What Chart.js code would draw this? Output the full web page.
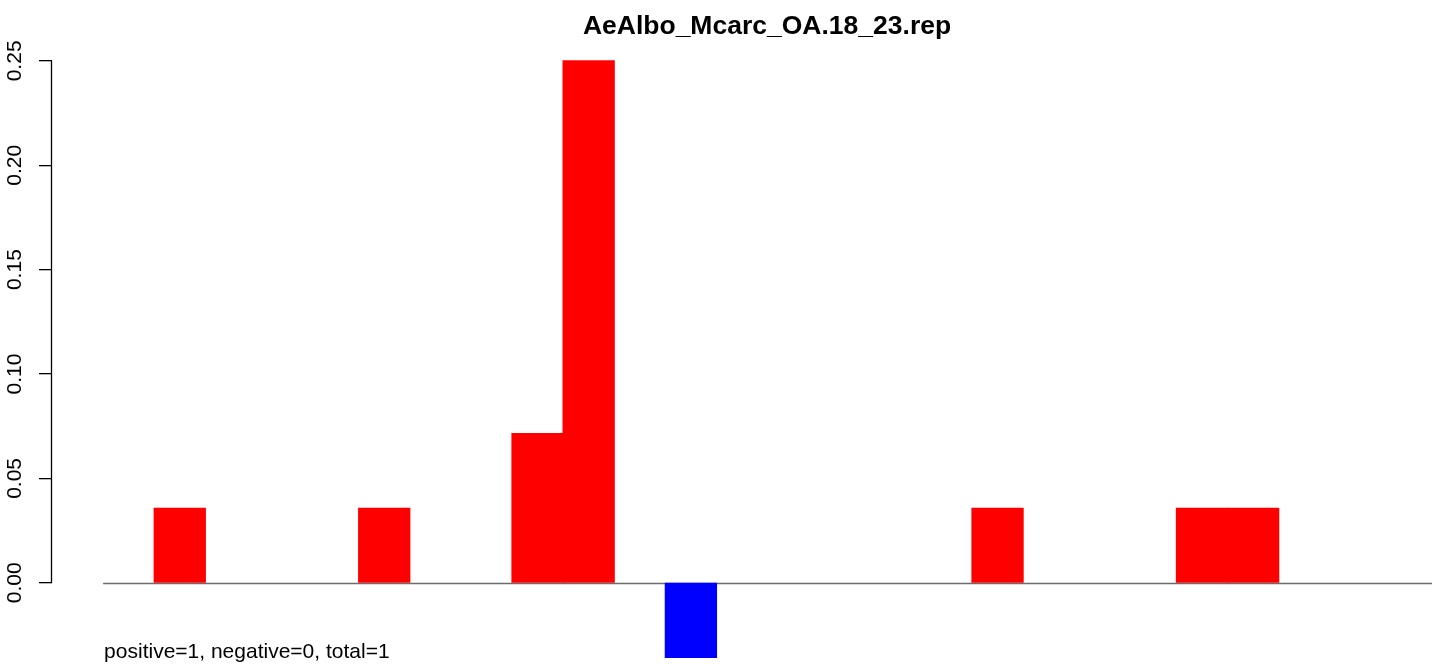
<!DOCTYPE html>
<html lang="en">
  <head>
    <meta charset="utf-8">
    <title>AeAlbo_Mcarc_OA.18_23.rep</title>
    <style> body {padding: 0; margin: 0; background: #fff;} </style>
    <script src="https://cdn.jsdelivr.net/npm/chart.js@4.4.1/dist/chart.umd.min.js"></script>
  </head>
  <body>
    <div style="position: relative; width:1439px; height:664px">
      <canvas id="repChart"></canvas>
    </div>
    <script>

      // bins along the x axis, one bar per bin
      var bins = [0, 1, 2, 3, 4, 5, 6, 7, 8, 9, 10, 11, 12, 13, 14, 15, 16, 17, 18, 19, 20, 21, 22, 23, 24, 25];
      var values = [0, 0.0357, 0, 0, 0, 0.0357, 0, 0, 0.0714, 0.25, 0, -0.0357, 0, 0, 0, 0, 0, 0.0357, 0, 0, 0, 0.0357, 0.0357, 0, 0, 0];
      var yTicks = [0, 0.05, 0.10, 0.15, 0.20, 0.25];
      var chartTitle = 'AeAlbo_Mcarc_OA.18_23.rep';
      var footNote = 'positive=1, negative=0, total=1';

      var FONT = 'Liberation Sans, Arial, Helvetica, sans-serif';

      // baseline under the bars, axis line, title and the note at the bottom
      var rPlot = {
        id: 'rPlot',
        beforeDatasetsDraw: function(chart) {
          var ctx = chart.ctx, x = chart.scales.x, y = chart.scales.y;
          var y0 = Math.round(y.getPixelForValue(0)) + 0.5;
          ctx.save();
          ctx.strokeStyle = '#6b6b6b';
          ctx.lineWidth = 1.3;
          ctx.beginPath();
          ctx.moveTo(x.getPixelForValue(bins[0] - 0.5), y0);
          ctx.lineTo(x.getPixelForValue(bins[bins.length - 1] + 0.5), y0);
          ctx.stroke();
          ctx.restore();
        },
        afterDraw: function(chart) {
          var ctx = chart.ctx, x = chart.scales.x, y = chart.scales.y;
          ctx.save();
          // y axis line, only over the tick range
          var ax = Math.round(chart.chartArea.left) - 0.5;
          ctx.strokeStyle = '#000';
          ctx.lineWidth = 1.3;
          ctx.beginPath();
          ctx.moveTo(ax, y.getPixelForValue(yTicks[0]));
          ctx.lineTo(ax, y.getPixelForValue(yTicks[yTicks.length - 1]));
          ctx.stroke();

          ctx.fillStyle = '#000';
          ctx.textBaseline = 'alphabetic';
          ctx.font = 'bold 26.5px ' + FONT;
          ctx.textAlign = 'center';
          ctx.fillText(chartTitle, 767, 34);

          ctx.font = '21px ' + FONT;
          ctx.textAlign = 'left';
          ctx.fillText(footNote, x.getPixelForValue(bins[0] - 0.5) + 1, 658);
          ctx.restore();
        }
      };

      var ctx = document.getElementById('repChart').getContext('2d');
      var myChart = new Chart(ctx, {
        type: 'bar',
        data: {
          labels: bins,
          datasets: [{
            data: bins.map(function(b, i) { return {x: b, y: values[i]}; }),
            backgroundColor: function(c) {
              if (!c.raw || c.raw.y === 0) return 'rgba(0,0,0,0)';
              return c.raw.y < 0 ? '#0000ff' : '#ff0000';
            },
            borderWidth: 0,
            inflateAmount: 0.6,
            categoryPercentage: 1.0,
            barPercentage: 1.0
          }]
        },
        options: {
          responsive: true,
          maintainAspectRatio: false,
          animation: false,
          layout: { padding: { top: 40, bottom: 4, left: 0, right: 7 } },
          plugins: {
            legend: { display: false },
            title: { display: false },
            tooltip: { enabled: false }
          },
          scales: {
            x: {
              type: 'linear',
              display: false,
              offset: false,
              min: -1.5,
              max: 25.5
            },
            y: {
              min: -0.037,
              max: 0.26,
              afterBuildTicks: function(axis) {
                axis.ticks = yTicks.map(function(v) { return {value: v}; });
              },
              afterFit: function(axis) {
                axis.width = 52;
                axis.paddingTop = 0;
                axis.paddingBottom = 0;
              },
              border: { display: false },
              grid: {
                drawOnChartArea: false,
                drawTicks: true,
                tickLength: 13,
                color: '#000',
                lineWidth: 1.3
              },
              ticks: {
                minRotation: 90,
                maxRotation: 90,
                crossAlign: 'center',
                padding: 3,
                color: '#000',
                font: { family: FONT, size: 21 },
                callback: function(v) { return Number(v).toFixed(2); }
              }
            }
          }
        },
        plugins: [rPlot]
      });
    </script>
  </body>
</html>
